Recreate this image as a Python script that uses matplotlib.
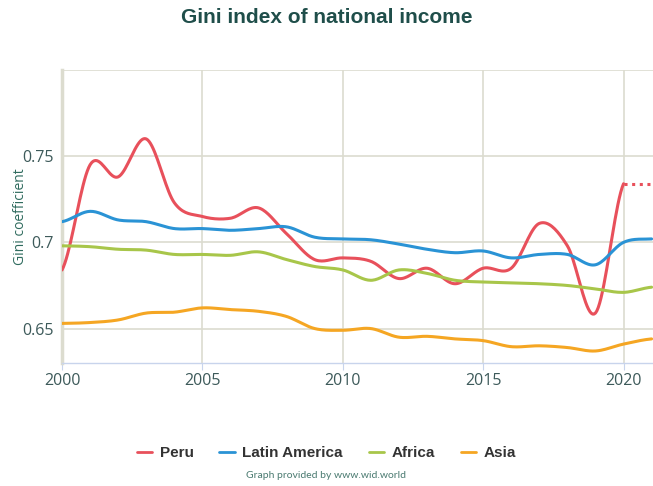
import numpy as np
import matplotlib.pyplot as plt

# Data (yearly values)
years = list(range(2000, 2022))
peru = [0.684, 0.745, 0.738, 0.760, 0.723, 0.715, 0.714, 0.720, 0.705, 0.690,
        0.691, 0.689, 0.679, 0.685, 0.676, 0.685, 0.685, 0.711, 0.698, 0.659,
        0.734]
peru_proj = [0.734, 0.734]   # dotted extension 2020 -> 2021
latam = [0.712, 0.718, 0.713, 0.712, 0.708, 0.708, 0.707, 0.708, 0.709, 0.703,
         0.702, 0.7015, 0.699, 0.696, 0.694, 0.695, 0.691, 0.693, 0.693, 0.687,
         0.700, 0.702]
africa = [0.698, 0.6975, 0.696, 0.6955, 0.693, 0.693, 0.6925, 0.6945, 0.690, 0.686,
          0.684, 0.678, 0.684, 0.682, 0.678, 0.677, 0.6765, 0.676, 0.675, 0.673,
          0.671, 0.674]
asia = [0.653, 0.6535, 0.655, 0.659, 0.6595, 0.662, 0.661, 0.660, 0.657, 0.650,
        0.649, 0.650, 0.645, 0.6455, 0.644, 0.643, 0.6395, 0.640, 0.639, 0.637,
        0.641, 0.644]

names = ["Peru", "Latin America", "Africa", "Asia"]
colors = ["#e8505b", "#2a93d5", "#a8c64a", "#f5a623"]


def smooth(x, y, n=20):
    # Catmull-Rom style curve through the points, like a spline series
    x = np.asarray(x, float)
    y = np.asarray(y, float)
    xs, ys = [], []
    for i in range(len(x) - 1):
        y0 = y[i - 1] if i > 0 else y[i]
        y3 = y[i + 2] if i + 2 < len(y) else y[i + 1]
        m1 = (y[i + 1] - y0) / 2
        m2 = (y3 - y[i]) / 2
        t = np.linspace(0, 1, n, endpoint=False)
        h00 = 2 * t**3 - 3 * t**2 + 1
        h10 = t**3 - 2 * t**2 + t
        h01 = -2 * t**3 + 3 * t**2
        h11 = t**3 - t**2
        xs.extend(x[i] + t * (x[i + 1] - x[i]))
        ys.extend(h00 * y[i] + h10 * m1 + h01 * y[i + 1] + h11 * m2)
    xs.append(x[-1])
    ys.append(y[-1])
    return xs, ys


fig = plt.figure(figsize=(6.53, 4.86), dpi=100)
ax = fig.add_axes([0.095, 0.253, 0.905, 0.603])

series = [peru, latam, africa, asia]
for vals, name, c in zip(series, names, colors):
    xs, ys = smooth(years[:len(vals)], vals)
    ax.plot(xs, ys, color=c, lw=2.2, label=name, solid_capstyle="round", zorder=3)

ax.plot(years[20:22], peru_proj, color=colors[0], lw=2.2, ls=(0, (1, 1.5)), zorder=3)

ax.set_xlim(2000, 2021.05)
ax.set_ylim(0.63, 0.80)
ax.set_xticks([2000, 2005, 2010, 2015, 2020])
ax.set_yticks([0.65, 0.7, 0.75])
ax.set_yticklabels(["0.65", "0.7", "0.75"])

grid_c = "#dcdccf"
ax.grid(True, color=grid_c, lw=1.2, zorder=0)
for s in ["top", "right"]:
    ax.spines[s].set_visible(False)
ax.axhline(0.80, color=grid_c, lw=1.2, zorder=0)
ax.spines["left"].set_color("#dcdccf")
ax.spines["left"].set_linewidth(2.5)
ax.spines["bottom"].set_color("#c8d4ec")
ax.spines["bottom"].set_linewidth(1)

ax.tick_params(axis="y", length=0, labelsize=11.5, labelcolor="#3d5a5a", pad=6)
ax.tick_params(axis="x", length=5, color="#c8d4ec", labelsize=11.5,
               labelcolor="#3d5a5a", pad=2)
for lab in ax.get_xticklabels() + ax.get_yticklabels():
    lab.set_family("Open Sans")

fig.text(0.031, 0.555, "Gini coefficient", rotation=90, ha="center", va="center",
         fontsize=10, color="#2f6b5e", family="Open Sans")

fig.text(0.5, 0.965, "Gini index of national income", ha="center", va="center",
         fontsize=15, fontweight="bold", color="#1f4e4a", family="Liberation Sans")

leg = fig.legend(loc="center", bbox_to_anchor=(0.5, 0.067), ncol=4, frameon=False,
                 handlelength=1.0, columnspacing=1.7, handletextpad=0.5,
                 prop={"family": "Liberation Sans", "weight": "bold", "size": 11})
for t in leg.get_texts():
    t.set_color("#333333")
for h in leg.get_lines():
    h.set_linewidth(2)

fig.text(0.5, 0.022, "Graph provided by www.wid.world", ha="center", va="center",
         fontsize=7.5, color="#4a7a70", family="Lato")

fig.savefig("out.png", dpi=100)
